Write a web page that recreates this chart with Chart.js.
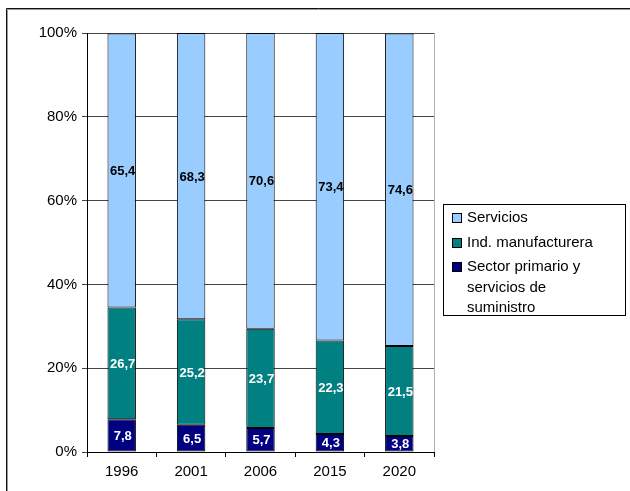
<!DOCTYPE html>
<html>
<head>
<meta charset="utf-8">
<script src="https://cdn.jsdelivr.net/npm/chart.js@4/dist/chart.umd.min.js"></script>
<style>
  html, body { margin: 0; padding: 0; background: #ffffff; }
  #wrap { position: relative; width: 630px; height: 491px; }
</style>
</head>
<body>
<div id="wrap"><canvas id="c" width="630" height="491"></canvas></div>
<script>
// Employment structure by sector (share of total, %)
const years = ['1996', '2001', '2006', '2015', '2020'];
const primario = [7.8, 6.5, 5.7, 4.3, 3.8];
const manufactura = [26.7, 25.2, 23.7, 22.3, 21.5];
const servicios = [65.4, 68.3, 70.6, 73.4, 74.6];
const seriesNames = ['Sector primario y servicios de suministro', 'Ind. manufacturera', 'Servicios'];
const legendLines = [['Servicios'], ['Ind. manufacturera'], ['Sector primario y', 'servicios de', 'suministro']];
const yTicks = [0, 20, 40, 60, 80, 100];

const FONT = '"Liberation Sans", Arial, sans-serif';
const colors = ['#000080', '#008080', '#99CCFF'];
const labelColors = ['#ffffff', '#ffffff', '#000000'];

const fmt = v => v.toFixed(1).replace('.', ',');

// Outer frame and right border of the plot area
const framePlugin = {
  id: 'frame',
  beforeDraw(chart) {
    const ctx = chart.ctx;
    ctx.save();
    ctx.fillStyle = '#ffffff';
    ctx.fillRect(0, 0, chart.width, chart.height);
    ctx.strokeStyle = '#999999';
    ctx.lineWidth = 1;
    ctx.beginPath();
    ctx.moveTo(7.5, chart.height);
    ctx.lineTo(7.5, 9.5);
    ctx.lineTo(chart.width, 9.5);
    ctx.stroke();
    ctx.strokeStyle = '#111111';
    ctx.beginPath();
    ctx.moveTo(6.5, chart.height);
    ctx.lineTo(6.5, 8.5);
    ctx.lineTo(chart.width, 8.5);
    ctx.stroke();
    ctx.restore();
  },
  beforeDatasetsDraw(chart) {
    const { ctx, chartArea } = chart;
    ctx.save();
    ctx.strokeStyle = '#b0b0b0';
    ctx.lineWidth = 1;
    ctx.beginPath();
    ctx.moveTo(Math.round(chartArea.right) + 0.5, chartArea.top);
    ctx.lineTo(Math.round(chartArea.right) + 0.5, chartArea.bottom);
    ctx.stroke();
    ctx.restore();
  }
};

// Value labels centred in each bar segment
const valueLabels = {
  id: 'valueLabels',
  afterDatasetsDraw(chart) {
    const ctx = chart.ctx;
    ctx.save();
    ctx.font = 'bold 13px ' + FONT;
    ctx.textAlign = 'center';
    ctx.textBaseline = 'middle';
    chart.data.datasets.forEach((ds, di) => {
      const meta = chart.getDatasetMeta(di);
      meta.data.forEach((bar, i) => {
        const y = (bar.y + bar.base) / 2;
        ctx.fillStyle = labelColors[di];
        ctx.fillText(fmt(ds.data[i]), bar.x + 1, y + 1);
      });
    });
    ctx.restore();
  }
};

// Boxed legend with wrapped entries
const boxLegend = {
  id: 'boxLegend',
  afterDraw(chart) {
    const ctx = chart.ctx;
    const x0 = 443.5, y0 = 204.5, w = 182, h = 111;
    ctx.save();
    ctx.strokeStyle = '#000000';
    ctx.lineWidth = 1;
    ctx.strokeRect(x0, y0, w, h);
    ctx.font = '15px ' + FONT;
    ctx.textBaseline = 'middle';
    ctx.textAlign = 'left';
    const order = [2, 1, 0];
    let y = 218;
    const lineH = 20.5;
    order.forEach((si, k) => {
      const lines = legendLines[k];
      ctx.fillStyle = colors[si];
      ctx.fillRect(452, Math.round(y) - 5, 10, 10);
      ctx.strokeStyle = '#000000';
      ctx.strokeRect(452.5, Math.round(y) - 4.5, 9, 9);
      ctx.fillStyle = '#000000';
      lines.forEach((t, li) => {
        ctx.fillText(t, 467, y + li * lineH);
      });
      y += lines.length * lineH + 4;
    });
    ctx.restore();
  }
};

const datasets = [primario, manufactura, servicios].map((vals, i) => ({
  label: seriesNames[i],
  data: vals,
  backgroundColor: colors[i],
  borderColor: '#000000',
  borderWidth: 1,
  borderSkipped: false,
  barPercentage: 0.41,
  categoryPercentage: 1.0
}));

new Chart(document.getElementById('c'), {
  type: 'bar',
  data: { labels: years, datasets },
  options: {
    responsive: false,
    animation: false,
    devicePixelRatio: 1,
    layout: { padding: { top: 33, right: 196, bottom: 0, left: 0 } },
    plugins: {
      legend: { display: false },
      title: { display: false },
      tooltip: { enabled: false }
    },
    scales: {
      x: {
        stacked: true,
        offset: true,
        grid: {
          display: true,
          offset: true,
          drawOnChartArea: false,
          drawTicks: true,
          tickLength: 5,
          color: '#000000'
        },
        border: { display: true, color: '#000000', width: 1 },
        ticks: { color: '#000000', font: { family: FONT, size: 15 }, padding: 6 },
        afterFit(scale) { scale.height = 39; }
      },
      y: {
        stacked: true,
        min: 0,
        max: 100,
        afterBuildTicks(scale) { scale.ticks = yTicks.map(v => ({ value: v })); },
        grid: {
          color: '#444444',
          lineWidth: 1,
          drawTicks: true,
          tickLength: 5
        },
        border: { display: true, color: '#000000', width: 1 },
        ticks: {
          color: '#000000',
          font: { family: FONT, size: 15 },
          padding: 5,
          callback: v => v + '%'
        },
        afterFit(scale) { scale.width = 87; }
      }
    }
  },
  plugins: [framePlugin, valueLabels, boxLegend]
});
</script>
</body>
</html>
